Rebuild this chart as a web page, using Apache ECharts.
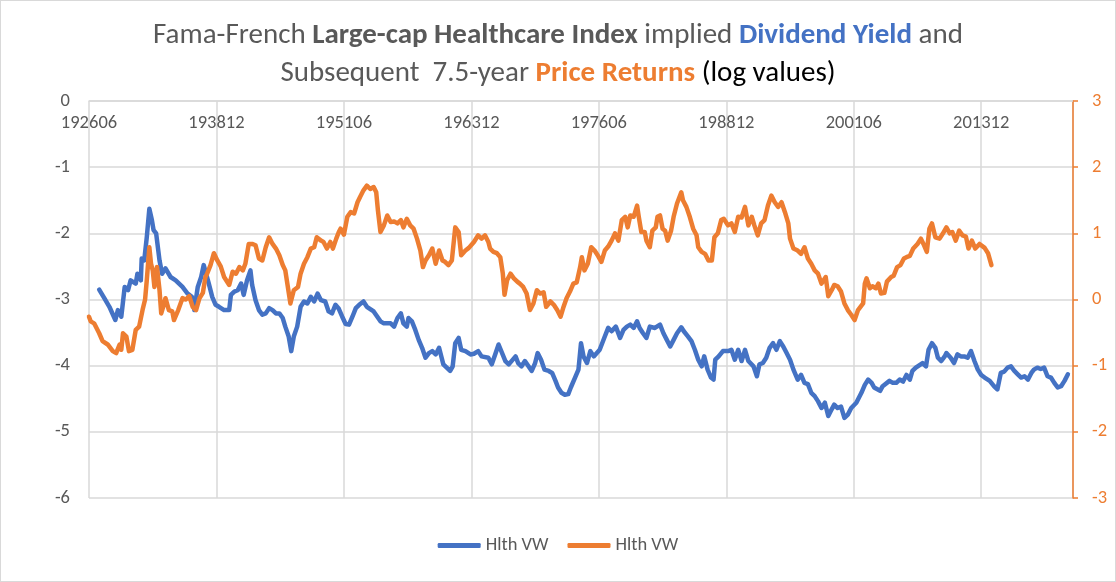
<!DOCTYPE html>
<html>
<head>
<meta charset="utf-8">
<script src="https://cdn.jsdelivr.net/npm/echarts@6/dist/echarts.min.js"></script>
<style>
html,body{margin:0;padding:0;background:#fff;}
#chart{width:1116px;height:582px;box-sizing:border-box;border:1px solid #D9D9D9;}
</style>
</head>
<body>
<div id="chart"></div>
<script>
// month offsets from 1926-06 (0 = 192606)
const blueMonths = [12,18,24,31,34,38,42,46,49,55,57,61,62,65,68,71,74,76,79,83,86,90,96,102,110,116,121,124,128,132,135,141,145,149,153,159,165,167,171,175,179,182,186,190,192,196,200,204,208,212,216,220,224,228,231,235,238,241,245,249,253,257,261,265,269,273,278,282,286,290,294,298,302,306,310,314,318,323,327,335,343,347,355,359,363,367,370,374,376,380,384,388,392,396,400,404,408,412,415,417,421,425,428,431,435,438,443,449,453,458,462,470,474,478,482,490,494,502,505,509,513,521,525,528,532,536,541,545,549,552,556,560,564,567,572,576,579,582,586,590,594,601,607,611,615,620,625,629,633,637,641,645,648,652,656,660,666,672,676,680,684,688,692,697,700,705,709,713,717,721,724,728,732,735,737,741,746,752,756,760,764,768,772,776,782,786,789,793,797,801,805,809,813,817,821,825,829,834,838,842,846,850,854,858,862,866,870,874,877,881,885,889,893,897,903,909,913,917,921,924,931,934,942,946,950,954,958,962,966,969,973,981,985,988,992,996,999,1003,1007,1009,1014,1018,1022,1026,1030,1034,1038,1042,1046,1050,1054,1060,1065,1069,1073,1077,1081,1085,1089,1093,1097,1101,1105,1109,1112,1116,1120,1124,1128,1132,1136,1140,1144,1148,1152];
const blueValues = [-2.85,-2.98,-3.11,-3.31,-3.16,-3.26,-2.81,-2.86,-2.71,-2.76,-2.61,-2.71,-2.38,-2.41,-2.06,-1.63,-1.80,-1.95,-2.0,-2.41,-2.61,-2.53,-2.66,-2.71,-2.81,-2.91,-2.96,-3.16,-2.81,-2.66,-2.48,-2.76,-2.96,-3.08,-3.11,-3.16,-3.16,-2.93,-2.88,-2.86,-2.76,-2.93,-2.71,-2.56,-2.78,-3.01,-3.16,-3.23,-3.21,-3.13,-3.16,-3.21,-3.21,-3.28,-3.41,-3.56,-3.78,-3.56,-3.41,-3.11,-3.03,-3.06,-2.96,-3.03,-2.91,-3.01,-3.03,-3.18,-3.21,-3.08,-3.14,-3.26,-3.37,-3.38,-3.26,-3.13,-3.08,-3.03,-3.11,-3.18,-3.33,-3.36,-3.36,-3.41,-3.28,-3.21,-3.36,-3.41,-3.28,-3.33,-3.46,-3.61,-3.73,-3.88,-3.81,-3.78,-3.83,-3.73,-3.88,-3.98,-4.03,-4.08,-4.01,-3.66,-3.58,-3.76,-3.78,-3.83,-3.82,-3.78,-3.86,-3.88,-3.98,-3.83,-3.68,-3.93,-3.98,-3.86,-3.96,-4.01,-3.93,-4.08,-3.96,-3.81,-3.91,-4.06,-4.08,-4.11,-4.23,-4.33,-4.41,-4.44,-4.43,-4.33,-4.18,-4.06,-3.66,-3.86,-3.96,-3.78,-3.86,-3.76,-3.56,-3.43,-3.48,-3.41,-3.58,-3.46,-3.41,-3.38,-3.43,-3.33,-3.43,-3.51,-3.58,-3.41,-3.43,-3.38,-3.51,-3.61,-3.71,-3.61,-3.51,-3.42,-3.48,-3.56,-3.63,-3.76,-3.91,-4.01,-3.86,-4.06,-4.18,-4.21,-3.91,-3.86,-3.78,-3.78,-3.76,-3.91,-3.76,-3.93,-3.76,-3.93,-4.01,-4.16,-3.98,-3.96,-3.88,-3.73,-3.66,-3.76,-3.63,-3.71,-3.81,-3.91,-4.06,-4.21,-4.14,-4.26,-4.28,-4.41,-4.46,-4.54,-4.64,-4.56,-4.76,-4.66,-4.59,-4.64,-4.62,-4.79,-4.74,-4.64,-4.56,-4.41,-4.29,-4.21,-4.26,-4.33,-4.38,-4.31,-4.23,-4.26,-4.26,-4.21,-4.24,-4.14,-4.21,-4.08,-4.03,-3.96,-4.01,-3.76,-3.66,-3.73,-3.88,-3.93,-3.86,-3.81,-3.88,-3.96,-3.83,-3.86,-3.86,-3.88,-3.78,-3.93,-4.06,-4.14,-4.18,-4.23,-4.31,-4.36,-4.11,-4.09,-4.03,-4.01,-4.08,-4.13,-4.18,-4.16,-4.21,-4.11,-4.06,-4.03,-4.05,-4.03,-4.16,-4.18,-4.26,-4.33,-4.31,-4.23,-4.13];
const orangeMonths = [0,2,6,12,16,22,28,32,36,38,40,44,47,51,55,59,63,66,68,71,73,75,77,80,83,85,88,90,94,98,100,105,110,114,118,122,126,130,134,137,139,143,147,151,155,159,165,169,173,177,181,184,188,192,196,200,204,208,212,216,220,224,228,231,234,237,241,246,249,253,257,261,265,268,273,276,280,284,287,291,294,296,300,304,308,312,316,319,323,327,331,335,338,340,343,347,351,355,359,363,367,370,374,378,382,386,390,393,396,400,404,408,412,416,419,423,427,431,435,438,443,447,453,458,462,466,470,472,476,480,484,487,489,492,496,500,504,507,511,515,519,523,527,531,535,538,543,547,551,555,558,562,566,570,574,578,580,583,587,591,595,599,603,607,611,615,619,623,627,631,634,637,641,645,647,650,654,656,660,663,667,669,672,675,678,681,685,688,692,697,699,703,707,711,715,717,721,725,729,733,736,740,744,747,752,756,760,764,768,772,776,780,783,787,791,795,799,803,807,811,815,819,823,825,829,834,838,842,846,850,854,858,862,867,870,874,877,881,885,889,893,897,901,905,911,913,915,919,922,926,929,932,936,939,944,947,951,955,959,962,966,970,975,979,982,986,989,992,996,1001,1005,1009,1013,1016,1020,1024,1028,1032,1035,1039,1043,1048,1054,1058,1062];
const orangeValues = [-0.26,-0.33,-0.36,-0.51,-0.63,-0.68,-0.78,-0.81,-0.68,-0.76,-0.51,-0.56,-0.78,-0.76,-0.46,-0.41,-0.16,0.0,0.29,0.79,0.54,0.44,0.19,0.49,0.14,-0.21,-0.08,0.02,-0.16,-0.18,-0.31,-0.16,0.02,0.0,0.05,-0.11,-0.16,0.02,0.10,0.34,0.39,0.52,0.70,0.59,0.5,0.34,0.22,0.42,0.39,0.49,0.44,0.54,0.84,0.84,0.82,0.62,0.59,0.79,0.94,0.84,0.77,0.67,0.52,0.44,0.19,-0.06,0.14,0.19,0.39,0.54,0.64,0.77,0.79,0.94,0.89,0.87,0.77,0.87,0.77,0.92,1.02,1.07,0.98,1.25,1.32,1.30,1.47,1.55,1.65,1.72,1.67,1.70,1.62,1.35,1.02,1.12,1.27,1.17,1.18,1.15,1.2,1.09,1.22,1.12,1.07,0.92,0.74,0.49,0.59,0.67,0.77,0.54,0.74,0.59,0.57,0.52,0.59,1.09,1.02,0.67,0.74,0.78,0.87,0.97,0.92,0.97,0.87,0.77,0.72,0.70,0.64,0.39,0.07,0.29,0.39,0.32,0.27,0.24,0.19,0.09,-0.16,-0.06,0.14,0.09,0.11,-0.11,-0.03,-0.08,-0.16,-0.26,-0.13,0.02,0.12,0.24,0.26,0.49,0.64,0.44,0.54,0.79,0.74,0.66,0.57,0.74,0.8,0.89,1.0,0.89,1.2,1.25,1.09,1.27,1.25,1.42,1.25,1.02,1.02,0.89,0.79,1.04,1.09,1.25,1.27,1.07,1.04,0.89,1.04,1.25,1.45,1.62,1.5,1.40,1.25,1.07,0.97,0.79,0.72,0.69,0.59,0.59,0.94,1.0,1.2,1.22,1.12,1.15,1.02,1.25,1.24,1.40,1.12,1.25,1.12,0.97,1.15,1.2,1.42,1.57,1.47,1.40,1.47,1.32,1.15,0.92,0.77,0.74,0.69,0.79,0.62,0.54,0.44,0.39,0.24,0.34,0.05,0.14,0.22,0.20,0.12,-0.06,-0.16,-0.23,-0.31,-0.16,-0.06,0.24,0.32,0.17,0.2,0.17,0.24,0.09,0.1,0.27,0.34,0.36,0.49,0.52,0.62,0.64,0.66,0.77,0.84,0.92,0.84,0.72,1.07,1.15,0.94,0.92,1.0,1.09,1.0,1.02,0.89,1.04,0.97,0.95,0.77,0.89,0.77,0.84,0.78,0.70,0.52];
const seriesNames = ['Hlth VW', 'Hlth VW'];
const leftTicks = [-6, -5, -4, -3, -2, -1, 0];
const rightTicks = [-3, -2, -1, 0, 1, 2, 3];
const xTickStep = 150;
const xMaxMonth = 1158;

function monthLabel(m) {
  const t = 5 + m;
  const y = 1926 + Math.floor(t / 12);
  const mo = (t % 12) + 1;
  return String(y) + (mo < 10 ? '0' + mo : String(mo));
}
function zip(xs, ys) { return xs.map((x, i) => [x, ys[i]]); }

const FONT = "Carlito, 'Liberation Sans Narrow', 'Open Sans', sans-serif";
const GRAY = '#595959';
const BLUE = '#4472C4';
const ORANGE = '#ED7D31';
const TFS = 29;
const AFS = 18.5;

const chart = echarts.init(document.getElementById('chart'), null, {renderer: 'canvas'});
chart.setOption({
  animation: false,
  title: [
    {
      left: 'center', top: 12,
      text: '{n|Fama-French }{b|Large-cap Healthcare Index}{n| implied }{bb|Dividend Yield}{n| and}',
      textStyle: {
        fontWeight: 'normal',
        rich: {
          n: {fontFamily: FONT, fontSize: TFS, lineHeight: 36, color: GRAY, fontWeight: 'normal'},
          b: {fontFamily: FONT, fontSize: TFS, lineHeight: 36, color: GRAY, fontWeight: 'bold'},
          bb: {fontFamily: FONT, fontSize: TFS, lineHeight: 36, color: BLUE, fontWeight: 'bold'}
        }
      }
    },
    {
      left: 'center', top: 50,
      text: '{n|Subsequent  7.5-year }{o|Price Returns}{k| (log values)}',
      textStyle: {
        fontWeight: 'normal',
        rich: {
          n: {fontFamily: FONT, fontSize: TFS, lineHeight: 36, color: GRAY, fontWeight: 'normal'},
          o: {fontFamily: FONT, fontSize: TFS, lineHeight: 36, color: ORANGE, fontWeight: 'bold'},
          k: {fontFamily: FONT, fontSize: TFS, lineHeight: 36, color: '#000000', fontWeight: 'normal'}
        }
      }
    }
  ],
  legend: {
    bottom: 21, left: 'center',
    itemWidth: 43, itemHeight: 5, itemGap: 19,
    icon: 'roundRect',
    textStyle: {fontFamily: FONT, fontSize: AFS, color: GRAY},
    data: [
      {name: 'blue', icon: 'roundRect'},
      {name: 'orange', icon: 'roundRect'}
    ],
    formatter: function (n) { return n === 'blue' ? seriesNames[0] : seriesNames[1]; }
  },
  grid: {left: 88, right: 42, top: 100, bottom: 83, containLabel: false},
  xAxis: {
    type: 'value', position: 'top', min: 0, max: xMaxMonth, interval: xTickStep,
    axisLine: {show: true, lineStyle: {color: '#D9D9D9', width: 1.5}},
    axisTick: {show: false},
    axisLabel: {
      inside: true, margin: 13, color: GRAY, fontFamily: FONT, fontSize: AFS,
      showMaxLabel: false,
      formatter: function (v) { return v % xTickStep === 0 ? monthLabel(v) : ''; }
    },
    splitLine: {show: true, lineStyle: {color: '#D9D9D9', width: 1.5}}
  },
  yAxis: [
    {
      type: 'value', min: leftTicks[0], max: leftTicks[leftTicks.length - 1], interval: 1,
      axisLine: {show: false}, axisTick: {show: false},
      axisLabel: {color: GRAY, fontFamily: FONT, fontSize: AFS, margin: 19},
      splitLine: {show: true, lineStyle: {color: '#D9D9D9', width: 1.5}}
    },
    {
      type: 'value', position: 'right', min: rightTicks[0], max: rightTicks[rightTicks.length - 1], interval: 1,
      axisLine: {show: true, lineStyle: {color: ORANGE, width: 1.5}},
      axisTick: {show: true, inside: false, length: 5, lineStyle: {color: ORANGE, width: 1.5}},
      axisLabel: {color: ORANGE, fontFamily: FONT, fontSize: AFS, margin: 19},
      splitLine: {show: false}
    }
  ],
  series: [
    {
      name: 'blue', type: 'line', yAxisIndex: 0, showSymbol: false, symbol: 'none',
      data: zip(blueMonths, blueValues),
      lineStyle: {color: BLUE, width: 4.5, cap: 'round', join: 'round'},
      itemStyle: {color: BLUE}
    },
    {
      name: 'orange', type: 'line', yAxisIndex: 1, showSymbol: false, symbol: 'none',
      data: zip(orangeMonths, orangeValues),
      lineStyle: {color: ORANGE, width: 4.5, cap: 'round', join: 'round'},
      itemStyle: {color: ORANGE}
    }
  ]
});
</script>
</body>
</html>
